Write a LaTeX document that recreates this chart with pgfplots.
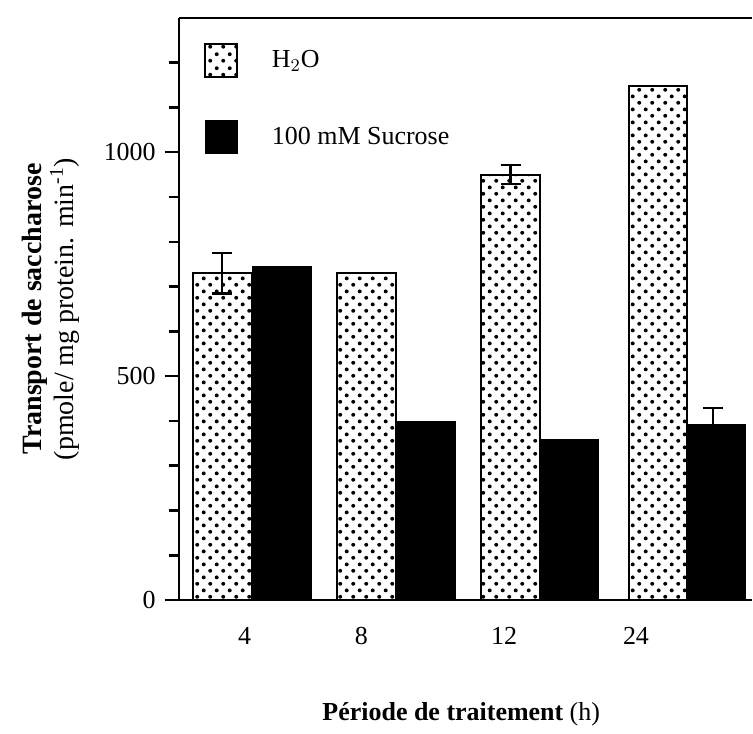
\documentclass[border=0pt]{standalone}
\usepackage{pgfplots}
\pgfplotsset{compat=1.18}
\usepackage{fontspec}
\setmainfont{Liberation Serif}
\usetikzlibrary{patterns}
\pgfdeclarepatternformonly{sparsedots}{\pgfqpoint{0pt}{0pt}}{\pgfqpoint{6.5pt}{6.7pt}}{\pgfqpoint{6.5pt}{6.7pt}}{%
 \pgfpathcircle{\pgfqpoint{1.625pt}{1.675pt}}{1pt}%
 \pgfpathcircle{\pgfqpoint{4.875pt}{5.025pt}}{1pt}%
 \pgfusepath{fill}}
\begin{document}
\begin{tikzpicture}
\path (-89.5pt,-61.5pt) rectangle (287pt,300.5pt);
\begin{axis}[
  scale only axis, width=287pt, height=291.5pt,
  xmin=179, xmax=753, ymin=0, ymax=1300,
  axis lines=left, axis line style={-, line width=1.2pt},
  font=\fontsize{13}{15}\selectfont,
  /pgf/number format/assume math mode=true,
  /pgf/number format/set thousands separator={},
  xtick={245,362,505,637}, xticklabels={4,8,12,24},
  xtick style={draw=none},
  xticklabel style={yshift=-3pt},
  ytick={0,500,1000},
  minor ytick={100,200,300,400,600,700,800,900,1100,1200},
  tick align=outside,
  major tick length=7pt, minor tick length=5pt,
  every major tick/.style={black, line width=1.2pt},
  every minor tick/.style={black, line width=1.3pt},
  yticklabel style={xshift=-1pt},
  xlabel={\textbf{Période de traitement} (h)},
  xlabel style={at={(axis description cs:0.493,-0.197)}, anchor=center},
  ylabel={\textbf{Transport de saccharose}\\(pmole/ mg protein. min\textsuperscript{-1})},
  ylabel style={at={(axis description cs:-0.223,0.5)}, anchor=center, align=center, font=\fontsize{14}{14}\selectfont},
  legend style={at={(axis description cs:0,1)}, anchor=north west, xshift=12.5pt, yshift=-12.5pt,
    draw=none, fill=none, inner sep=0pt, row sep=21pt,
    nodes={inner sep=0pt}, font=\fontsize{13}{15}\selectfont},
  legend cell align=left,
]
\draw[line width=1.2pt] (rel axis cs:0,1) -- (rel axis cs:1,1);
\addplot[ybar, bar width=59, bar shift=0pt, pattern=sparsedots, draw=black, line width=1pt,
  legend image code/.code={\draw[pattern=sparsedots, draw=black, line width=1pt] (0pt,-8.25pt) rectangle (16pt,8.25pt);}]
  coordinates {(222.5,730) (367,730) (511.5,950) (659,1147)};
\addlegendentry{\hspace*{17pt}H$_2$O}
\addplot[ybar, bar width=59, bar shift=0pt, fill=black, draw=black, line width=0.5pt,
  legend image code/.code={\fill[black] (0pt,-8.25pt) rectangle (16pt,8.25pt);}]
  coordinates {(282,744) (426.5,399) (570,358) (717,392)};
\addlegendentry{\hspace*{17pt}100 mM Sucrose}
\addplot[forget plot, draw=none, mark=none,
  error bars/.cd, y dir=both, y explicit,
  error bar style={draw=black, line width=1.2pt},
  error mark options={rotate=90, mark size=5pt, line width=1.2pt, draw=black}]
  coordinates {(222.5,730) +- (0,45) (511.5,950) +- (0,21) (714,392) +- (0,37)};
\end{axis}
\end{tikzpicture}
\end{document}
